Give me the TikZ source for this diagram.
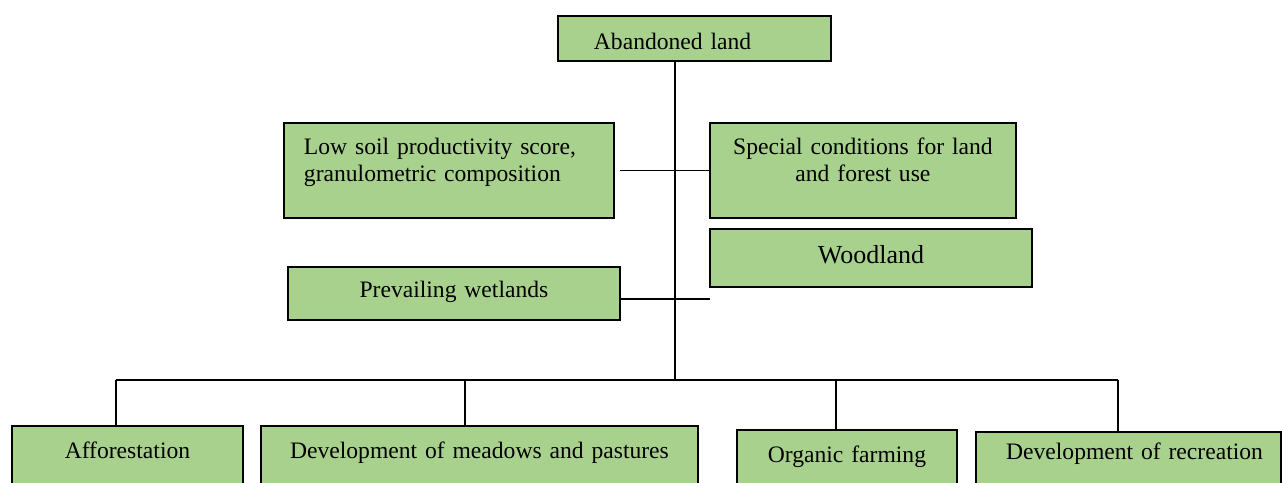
\documentclass[tikz,border=0pt]{standalone}
\usepackage{fontspec}
\setmainfont{Liberation Serif}
\definecolor{boxgreen}{HTML}{A9D18E}
\begin{document}
\begin{tikzpicture}[x=1pt,y=-1pt,
  gbox/.style={draw=black, line width=1.9pt, fill=boxgreen, inner ysep=0pt,
    anchor=north west, font=\fontsize{23.6}{26.5}\selectfont},
  conn/.style={draw=black, line width=1.1pt}]
\useasboundingbox (0,0) rectangle (1282,482);
% boxes
\node[gbox, text width=201pt, inner xsep=36pt, align=left, text height=34pt, text depth=11pt] (top) at (557,15) {Abandoned land};
\node[gbox, text width=290pt, inner xsep=20pt, align=left, text height=32pt, text depth=63pt] (low) at (283,122) {Low soil productivity score,\\granulometric composition};
\node[gbox, text width=296pt, inner xsep=5pt, align=center, text height=32pt, text depth=63pt] (spec) at (709,122) {Special conditions for land\\and forest use};
\node[gbox, text width=312pt, inner xsep=5pt, align=center, text height=35pt, text depth=23pt, font=\fontsize{26}{26}\selectfont] (wood) at (709,228) {Woodland};
\node[gbox, text width=322pt, inner xsep=5pt, align=center, text height=31pt, text depth=22pt] (wet) at (287,266) {Prevailing wetlands};
\node[gbox, text width=221pt, inner xsep=5pt, align=center, text height=33pt, text depth=50pt] (aff) at (11,425) {Afforestation};
\node[gbox, text width=427pt, inner xsep=5pt, align=center, text height=33pt, text depth=50pt] (mead) at (260,425) {Development of meadows and pastures};
\node[gbox, text width=210pt, inner xsep=5pt, align=center, text height=33pt, text depth=50pt] (org) at (736,429) {Organic farming};
\node[gbox, text width=269pt, inner xsep=18pt, align=right, text height=28pt, text depth=50pt] (rec) at (975,431) {Development of recreation};
% connectors
\coordinate (j) at (675,380);
\draw[conn] (top.south -| j) -- (j);
\draw[conn] ([xshift=5pt]low.east) -- (spec.west);
\coordinate (wend) at (710,299);
\draw[conn] (wet.east |- wend) -- (wend);
\coordinate (b1) at (116,380);
\coordinate (b2) at (465,380);
\coordinate (b3) at (836,380);
\coordinate (b4) at (1118,380);
\draw[conn] (b1) -- (b4);
\draw[conn] (b1) -- (aff.north -| b1);
\draw[conn] (b2) -- (mead.north -| b2);
\draw[conn] (b3) -- (org.north -| b3);
\draw[conn] (b4) -- (rec.north -| b4);
\end{tikzpicture}
\end{document}
